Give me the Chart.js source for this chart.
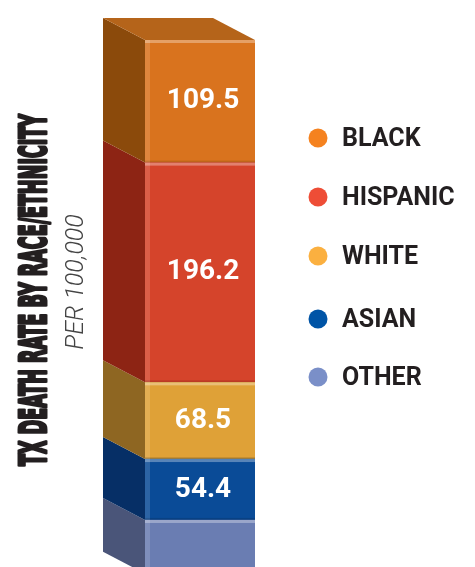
<!DOCTYPE html>
<html>
<head>
<meta charset="utf-8">
<script src="https://cdn.jsdelivr.net/npm/chart.js@4.4.0/dist/chart.umd.min.js"></script>
<style>
  html, body { margin: 0; padding: 0; background: #fff; }
  #wrap { position: relative; width: 475px; height: 567px; overflow: hidden; }
</style>
</head>
<body>
<div id="wrap"><canvas id="chart" width="475" height="567"></canvas></div>
<script>
// stacked from the bottom of the column to the top
const groups = ['OTHER', 'ASIAN', 'WHITE', 'HISPANIC', 'BLACK'];
const rates = [48, 54.4, 68.5, 196.2, 109.5];
const rateLabels = ['', '54.4', '68.5', '196.2', '109.5'];
// legend reads top to bottom
const legendOrder = ['BLACK', 'HISPANIC', 'WHITE', 'ASIAN', 'OTHER'];

const titleText = 'TX DEATH RATE BY RACE/ETHNICITY';
const subtitleText = 'PER 100,000';

const frontColors = ['#6a7db2', '#0a4b97', '#dfa137', '#d5442b', '#d9731e'];
const sideColors = ['#4a5579', '#062f66', '#8e6622', '#8d2414', '#8b4a0b'];
const dotColors = { BLACK: '#f5821f', HISPANIC: '#ee4d36', WHITE: '#fbb040', ASIAN: '#0054a6', OTHER: '#7a8fc8' };
const topColor = '#b5641a';

const total = rates.reduce((a, b) => a + b, 0);

// depth offset of the fake 3D column
const DX = -42, DY = -22;

const cubePlugin = {
    id: 'cube',
    afterDatasetsDraw(chart) {
        const ctx = chart.ctx;
        ctx.save();
        chart.data.datasets.forEach((ds, i) => {
            const el = chart.getDatasetMeta(i).data[0];
            const left = el.x - el.width / 2;
            const right = el.x + el.width / 2;
            const top = el.y, bottom = el.base;

            // side face
            ctx.fillStyle = sideColors[i];
            ctx.beginPath();
            ctx.moveTo(left, top);
            ctx.lineTo(left, bottom);
            ctx.lineTo(left + DX, bottom + DY);
            ctx.lineTo(left + DX, top + DY);
            ctx.closePath();
            ctx.fill();

            // bevel highlights on the front face
            ctx.fillStyle = 'rgba(255,255,255,0.32)';
            ctx.fillRect(left, top, right - left, 3);
            ctx.fillStyle = 'rgba(255,255,255,0.14)';
            ctx.fillRect(left, top, 5, bottom - top);
            ctx.fillStyle = 'rgba(0,0,0,0.12)';
            ctx.fillRect(left, bottom - 2, right - left, 2);

            if (i === chart.data.datasets.length - 1) {
                ctx.fillStyle = topColor;
                ctx.beginPath();
                ctx.moveTo(left, top);
                ctx.lineTo(right, top);
                ctx.lineTo(right + DX, top + DY);
                ctx.lineTo(left + DX, top + DY);
                ctx.closePath();
                ctx.fill();
            }

            // value label
            if (rateLabels[i]) {
                ctx.fillStyle = '#ffffff';
                ctx.font = 'bold 28px Roboto';
                ctx.textAlign = 'center';
                ctx.textBaseline = 'middle';
                ctx.fillText(rateLabels[i], el.x + 3, (top + bottom) / 2);
            }
        });
        ctx.restore();
    },
    afterDraw(chart) {
        const ctx = chart.ctx;
        ctx.save();

        // vertical title, condensed to fit the column height
        ctx.translate(36, 290);
        ctx.rotate(-Math.PI / 2);
        ctx.font = 'bold 38px "Liberation Sans Narrow", "DejaVu Sans Condensed", Roboto';
        const w = ctx.measureText(titleText).width;
        ctx.scale(352 / w, 1);
        ctx.fillStyle = '#231f20';
        ctx.strokeStyle = '#231f20';
        ctx.lineWidth = 3;
        ctx.lineJoin = 'round';
        ctx.textAlign = 'center';
        ctx.textBaseline = 'middle';
        ctx.strokeText(titleText, 0, 0);
        ctx.fillText(titleText, 0, 0);
        ctx.restore();

        ctx.save();
        ctx.translate(77, 282);
        ctx.rotate(-Math.PI / 2);
        ctx.font = 'italic 300 25px Roboto';
        ctx.fillStyle = '#444444';
        ctx.textAlign = 'center';
        ctx.textBaseline = 'middle';
        ctx.fillText(subtitleText, 0, 0);
        ctx.restore();

        // legend
        const legendY = [138, 197, 256, 319, 377];
        ctx.save();
        legendOrder.forEach((name, k) => {
            const y = legendY[k];
            ctx.fillStyle = dotColors[name];
            ctx.beginPath();
            ctx.arc(318, y, 9.5, 0, Math.PI * 2);
            ctx.fill();
            ctx.fillStyle = '#231f20';
            ctx.font = 'bold 25px Roboto';
            ctx.textAlign = 'left';
            ctx.textBaseline = 'middle';
            ctx.fillText(name, 342, y + 2);
        });
        ctx.restore();
    }
};

new Chart(document.getElementById('chart'), {
    type: 'bar',
    data: {
        labels: ['TX'],
        datasets: groups.map((g, i) => ({
            label: g,
            data: [rates[i]],
            backgroundColor: frontColors[i],
            borderWidth: 0,
            barPercentage: 1,
            categoryPercentage: 1
        }))
    },
    options: {
        responsive: false,
        animation: false,
        layout: { padding: { left: 145, right: 220, top: 40, bottom: 0 } },
        scales: {
            x: { stacked: true, display: false },
            y: { stacked: true, display: false, min: 6, max: total }
        },
        plugins: {
            legend: { display: false },
            tooltip: { enabled: false }
        }
    },
    plugins: [cubePlugin]
});
</script>
</body>
</html>
